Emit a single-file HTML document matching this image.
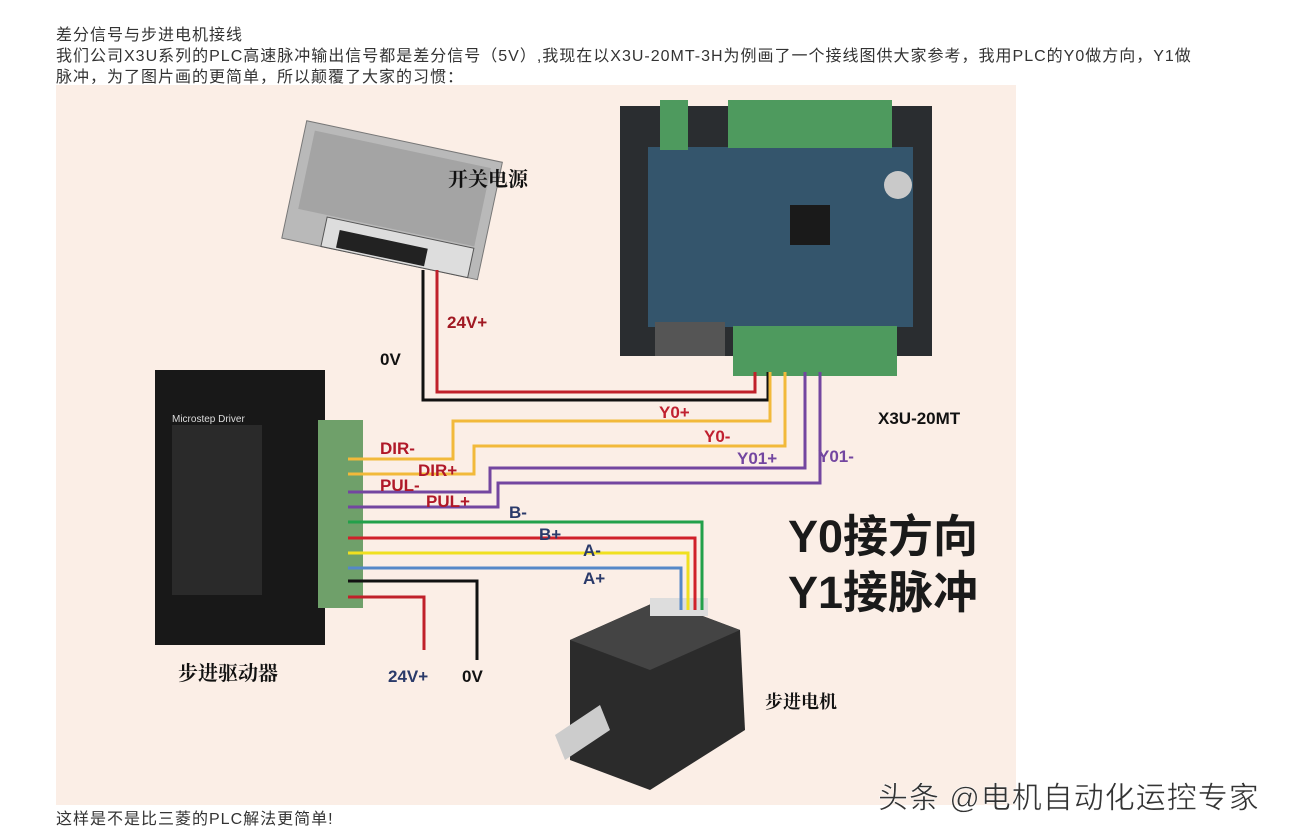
<!DOCTYPE html>
<html><head><meta charset="utf-8"><style>
body{margin:0;width:1306px;height:837px;background:#fff;position:relative;overflow:hidden;font-family:"Liberation Sans","Noto Sans CJK SC",sans-serif}
.t{position:absolute;left:56px;font-size:16px;letter-spacing:1px;color:#333;white-space:nowrap}
</style></head><body>
<div class="t" style="top:21px">差分信号与步进电机接线</div>
<div class="t" style="top:42px">我们公司X3U系列的PLC高速脉冲输出信号都是差分信号（5V）,我现在以X3U-20MT-3H为例画了一个接线图供大家参考，我用PLC的Y0做方向，Y1做</div>
<div class="t" style="top:63px">脉冲，为了图片画的更简单，所以颠覆了大家的习惯：</div>
<div class="t" style="top:805px">这样是不是比三菱的PLC解法更简单!</div>
<svg style="position:absolute;left:0;top:0" width="1306" height="837">
<rect x="56" y="85" width="960" height="720" fill="#fbeee6"/>
<g transform="rotate(12 390 210)">
<rect x="290" y="140" width="200" height="120" fill="#b9b9b9" stroke="#777"/>
<rect x="300" y="148" width="180" height="80" fill="#a4a4a4"/>
<rect x="330" y="230" width="150" height="30" fill="#ddd" stroke="#555"/>
<rect x="345" y="240" width="90" height="18" fill="#222"/>
</g>
<text x="448" y="186" font-size="20" font-family="Noto Serif CJK SC,serif" font-weight="bold" fill="#111">开关电源</text>
<rect x="620" y="106" width="312" height="250" fill="#2a2d30"/>
<rect x="648" y="147" width="265" height="180" fill="#34556c"/>
<rect x="790" y="205" width="40" height="40" fill="#1a1a1a"/>
<circle cx="898" cy="185" r="14" fill="#c9c9c9"/>
<rect x="660" y="100" width="28" height="50" fill="#4e9a5e"/>
<rect x="728" y="100" width="164" height="48" fill="#4e9a5e"/>
<rect x="733" y="326" width="164" height="50" fill="#4e9a5e"/>
<rect x="655" y="322" width="70" height="34" fill="#555"/>
<rect x="155" y="370" width="170" height="275" fill="#181818"/>
<rect x="172" y="425" width="90" height="170" fill="#2a2a2a"/>
<rect x="318" y="420" width="45" height="188" fill="#6fa06a"/>
<text x="172" y="422" font-size="10" fill="#ddd">Microstep Driver</text>
<text x="178" y="680" font-size="20" font-family="Noto Serif CJK SC,serif" font-weight="bold" fill="#111">步进驱动器</text>
<polygon points="570,640 660,600 740,630 745,730 650,790 570,760" fill="#2b2b2b"/>
<polygon points="570,640 660,600 740,630 650,670" fill="#444"/>
<rect x="650" y="598" width="58" height="18" fill="#ddd"/>
<polygon points="555,735 600,705 610,730 565,760" fill="#ccc"/>
<text x="765" y="708" font-size="18" font-family="Noto Serif CJK SC,serif" font-weight="bold" fill="#111">步进电机</text>
<g fill="none" stroke-width="3">
<polyline points="437,270 437,392 755,392 755,372" stroke="#c0202a"/>
<polyline points="423,270 423,400 768,400 768,372" stroke="#111"/>
<polyline points="348,459 453,459 453,421 770,421 770,372" stroke="#f2b93a"/>
<polyline points="348,474 474,474 474,446 785,446 785,372" stroke="#f2b93a"/>
<polyline points="348,492 490,492 490,468 805,468 805,372" stroke="#7346a0"/>
<polyline points="348,507 498,507 498,483 820,483 820,372" stroke="#7346a0"/>
<polyline points="348,522 702,522 702,610" stroke="#22a04a"/>
<polyline points="348,538 695,538 695,610" stroke="#d0202a"/>
<polyline points="348,553 688,553 688,610" stroke="#f0e020"/>
<polyline points="348,568 681,568 681,610" stroke="#5588c8"/>
<polyline points="348,581 477,581 477,660" stroke="#111"/>
<polyline points="348,597 424,597 424,650" stroke="#c0202a"/>
</g>
<g font-weight="bold" font-size="17">
<text x="447" y="328" fill="#a01822">24V+</text>
<text x="380" y="365" fill="#111">0V</text>
<text x="659" y="418" fill="#c02030">Y0+</text>
<text x="704" y="442" fill="#c02030">Y0-</text>
<text x="737" y="464" fill="#7346a0">Y01+</text>
<text x="818" y="462" fill="#7346a0">Y01-</text>
<text x="878" y="424" fill="#111">X3U-20MT</text>
<text x="380" y="454" fill="#b01828">DIR-</text>
<text x="418" y="476" fill="#b01828">DIR+</text>
<text x="380" y="491" fill="#b01828">PUL-</text>
<text x="426" y="507" fill="#b01828">PUL+</text>
<text x="509" y="518" fill="#2a3a6a">B-</text>
<text x="539" y="540" fill="#2a3a6a">B+</text>
<text x="583" y="556" fill="#2a3a6a">A-</text>
<text x="583" y="584" fill="#2a3a6a">A+</text>
<text x="388" y="682" fill="#2a3a6a">24V+</text>
<text x="462" y="682" fill="#111">0V</text>
</g>
<g font-weight="bold" font-size="45" fill="#1a1a1a">
<text x="788" y="552">Y0接方向</text>
<text x="788" y="608">Y1接脉冲</text>
</g>
<text x="878" y="808" font-size="30" letter-spacing="1" fill="#333" stroke="#fff" stroke-width="0.5">头条 @电机自动化运控专家</text>
</svg>
</body></html>
